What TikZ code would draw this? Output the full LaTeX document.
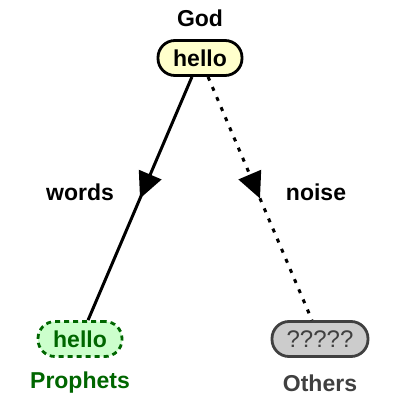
\documentclass[tikz,border=0pt]{standalone}
\usepackage{fontspec}
\setmainfont{Liberation Sans}
\usepackage{xcolor}
\usetikzlibrary{arrows.meta, decorations.markings}
\definecolor{godFill}{HTML}{FFFFCC}
\definecolor{prophetFill}{HTML}{CCFFCC}
\definecolor{prophetLine}{HTML}{006600}
\definecolor{otherFill}{HTML}{CCCCCC}
\definecolor{otherLine}{HTML}{404040}
\tikzset{
arrowMid/.style={postaction=decorate,
    decoration={markings, mark=at position .5 with {\arrow{#1}}
    } },
msgBox/.style={draw, line width=2.8pt, rounded corners=17pt, minimum height=35pt,
    inner sep=0pt, font=\bfseries\fontsize{23}{27}\selectfont},
lbl/.style={font=\bfseries\fontsize{23}{27}\selectfont, inner sep=0pt}
}

\begin{document}
\begin{tikzpicture}[x=1pt,y=-1pt]
    \useasboundingbox (0,0) rectangle (400,400);
    \node[msgBox, fill=godFill, minimum width=84pt] (god) at (200,58) {hello};
    \node[msgBox, fill=prophetFill, draw=prophetLine, text=prophetLine, dash pattern=on 5pt off 4pt, minimum width=84pt] (prophets) at (80,339) {hello};
    \node[msgBox, fill=otherFill, draw=otherLine, text=otherLine, font=\fontsize{24}{28}\selectfont, minimum width=96pt] (others) at (320,339) {?????};
    \node[lbl] (godLbl) at (200,18) {God};
    \node[lbl, text=prophetLine] (prophetsLbl) at (80,383) {Prophets};
    \node[lbl, text=otherLine] (othersLbl) at (320,383) {Others};
    \node[lbl] (wordsLbl) at (80,192) {words};
    \node[lbl] (noiseLbl) at (316,192) {noise};
    \draw[line width=3pt, arrowMid={Triangle[length=26pt,width=24pt]}] (god) -- (prophets);
    \draw[line width=3pt, dash pattern=on 4pt off 7pt, arrowMid={Triangle[length=26pt,width=24pt]}] (god) -- (others);
\end{tikzpicture}
\end{document}
